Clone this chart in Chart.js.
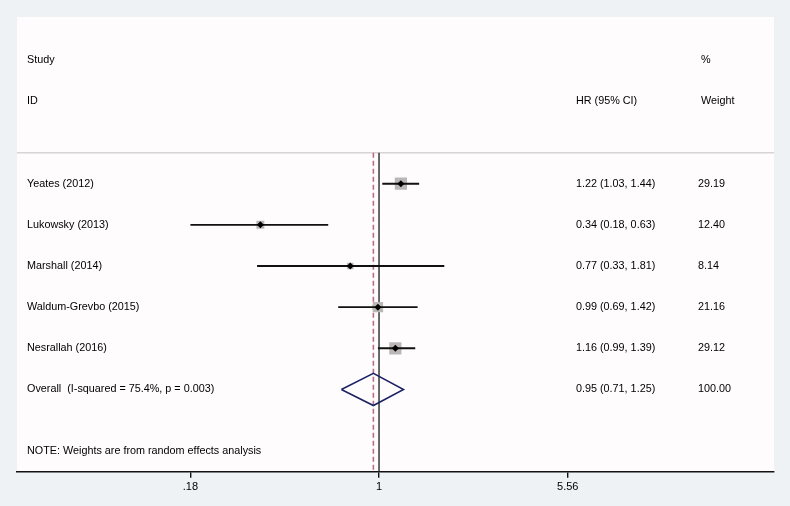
<!DOCTYPE html>
<html lang="en">
<head>
  <meta charset="UTF-8">
  <title>Forest plot - HR (95% CI)</title>
  <script src="https://cdn.jsdelivr.net/npm/chart.js"></script>
  <style>
    html, body { margin: 0; padding: 0; background: #eef2f4; }
    canvas { display: block; }
  </style>
</head>
<body>
  <canvas id="forest" width="790" height="506"></canvas>
<script>
// data
const studies  = ["Yeates (2012)", "Lukowsky (2013)", "Marshall (2014)", "Waldum-Grevbo (2015)", "Nesrallah (2016)"];
const hr       = [1.22, 0.34, 0.77, 0.99, 1.16];
const ciLow    = [1.03, 0.18, 0.33, 0.69, 0.99];
const ciHigh   = [1.44, 0.63, 1.81, 1.42, 1.39];
const weights  = [29.19, 12.40, 8.14, 21.16, 29.12];

const overallLabel  = "Overall  (I-squared = 75.4%, p = 0.003)";
const overallHR     = 0.95;
const overallLow    = 0.71;
const overallHigh   = 1.25;
const overallWeight = 100.00;

const tickValues = [0.18, 1, 5.56];
const tickLabels = [".18", "1", "5.56"];

const noteText = "NOTE: Weights are from random effects analysis";

// row layout (y units, top = 0)
const studyRows  = [3, 4, 5, 6, 7];
const overallRow = 8;
const noteRow    = 9.5;
const ruleRow    = 2.25;
const X_MIN = 0.0372, X_MAX = 36.27;
const Y_MIN = -1.05, Y_MAX = 10;

const fmt = v => v.toFixed(2);
const FONT = "'Liberation Sans', Arial, Helvetica, sans-serif";

// CI whiskers, one dataset each
const ciSets = studies.map((s, i) => ({
  type: "line",
  data: [{ x: ciLow[i], y: studyRows[i] }, { x: ciHigh[i], y: studyRows[i] }],
  borderColor: "#111",
  borderWidth: 1.9,
  pointRadius: 0,
  order: 2
}));

const DIAMOND_HALF = 0.39;

const datasets = [
  // point estimate marker
  {
    type: "scatter",
    data: hr.map((v, i) => ({ x: v, y: studyRows[i] })),
    pointStyle: "rectRot",
    pointRadius: 3.5,
    backgroundColor: "#000",
    borderColor: "#000",
    borderWidth: 0,
    order: 0
  },
  ...ciSets,
  // weight boxes
  {
    type: "scatter",
    data: hr.map((v, i) => ({ x: v, y: studyRows[i] })),
    pointStyle: "rect",
    pointRadius: ctx => 1.6 * Math.sqrt(weights[ctx.dataIndex] || 0),
    backgroundColor: "#bcb7b7",
    borderWidth: 0,
    order: 3
  },
  // overall diamond
  {
    type: "line",
    data: [
      { x: overallLow, y: overallRow },
      { x: overallHR, y: overallRow - DIAMOND_HALF },
      { x: overallHigh, y: overallRow },
      { x: overallHR, y: overallRow + DIAMOND_HALF },
      { x: overallLow, y: overallRow }
    ],
    borderColor: "#1b2266",
    borderWidth: 1.5,
    pointRadius: 0,
    fill: false,
    order: 1
  },
  // null line at 1
  {
    type: "line",
    data: [{ x: 1, y: ruleRow }, { x: 1, y: Y_MAX }],
    borderColor: "#2a2a2a",
    borderWidth: 1.4,
    pointRadius: 0,
    order: 5
  },
  // overall effect dashed line
  {
    type: "line",
    data: [{ x: overallHR, y: ruleRow }, { x: overallHR, y: Y_MAX }],
    borderColor: "#bf6b88",
    borderWidth: 1.6,
    borderDash: [5, 3],
    pointRadius: 0,
    order: 6
  },
  // header separator
  {
    type: "line",
    data: [{ x: X_MIN, y: ruleRow }, { x: X_MAX, y: ruleRow }],
    borderColor: "#d9d4d4",
    borderWidth: 1.5,
    pointRadius: 0,
    order: 7
  }
];

// background panel + text columns
const panelPlugin = {
  id: "panel",
  beforeDraw(chart) {
    const { ctx, chartArea: a } = chart;
    ctx.save();
    ctx.fillStyle = "#eef2f4";
    ctx.fillRect(0, 0, chart.width, chart.height);
    ctx.fillStyle = "#fefcfd";
    ctx.fillRect(a.left, a.top, a.right - a.left, a.bottom - a.top);
    ctx.restore();
  },
  afterDatasetsDraw(chart) {
    const { ctx, chartArea: a, scales: { y } } = chart;
    const colStudy = a.left + 10;
    const colHR = a.left + 559;
    const colW = a.left + 681;
    ctx.save();
    ctx.font = "10.8px " + FONT;
    ctx.fillStyle = "#000";
    ctx.textBaseline = "middle";
    ctx.textAlign = "left";
    ctx.fillText("Study", colStudy, y.getPixelForValue(0));
    ctx.fillText("ID", colStudy, y.getPixelForValue(1));
    ctx.fillText("HR (95% CI)", colHR, y.getPixelForValue(1));
    ctx.fillText("%", colW + 3, y.getPixelForValue(0));
    ctx.fillText("Weight", colW + 3, y.getPixelForValue(1));
    studies.forEach((s, i) => {
      const py = y.getPixelForValue(studyRows[i]);
      ctx.fillText(s, colStudy, py);
      ctx.fillText(`${fmt(hr[i])} (${fmt(ciLow[i])}, ${fmt(ciHigh[i])})`, colHR, py);
      ctx.fillText(fmt(weights[i]), colW, py);
    });
    const oy = y.getPixelForValue(overallRow);
    ctx.fillText(overallLabel, colStudy, oy);
    ctx.fillText(`${fmt(overallHR)} (${fmt(overallLow)}, ${fmt(overallHigh)})`, colHR, oy);
    ctx.fillText(fmt(overallWeight), colW, oy);
    ctx.fillText(noteText, colStudy, y.getPixelForValue(noteRow));
    ctx.restore();
  }
};

new Chart(document.getElementById("forest"), {
  data: { datasets },
  options: {
    responsive: false,
    animation: false,
    devicePixelRatio: 1,
    layout: { padding: { left: 17, right: 16, top: 17, bottom: 9 } },
    plugins: { legend: { display: false }, tooltip: { enabled: false } },
    scales: {
      x: {
        type: "logarithmic",
        min: X_MIN,
        max: X_MAX,
        afterBuildTicks: axis => { axis.ticks = tickValues.map(v => ({ value: v })); },
        ticks: {
          autoSkip: false,
          maxRotation: 0,
          padding: 3,
          color: "#000",
          font: { family: FONT, size: 11 },
          callback: (v, i) => tickLabels[i]
        },
        grid: { drawOnChartArea: false, drawTicks: true, tickLength: 6, color: "#111", lineWidth: 1.4 },
        border: { display: true, color: "#111", width: 1.6 }
      },
      y: {
        type: "linear",
        reverse: true,
        min: Y_MIN,
        max: Y_MAX,
        display: false
      }
    }
  },
  plugins: [panelPlugin]
});
</script>
</body>
</html>
